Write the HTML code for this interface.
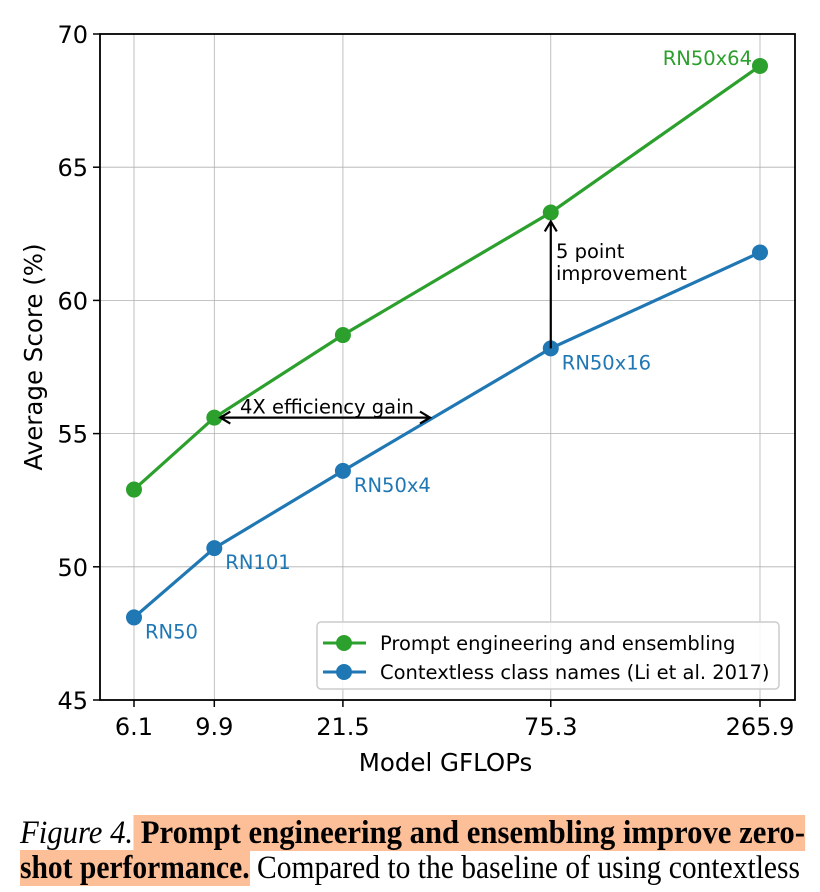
<!DOCTYPE html>
<html><head><meta charset="utf-8"><style>
body{margin:0;background:#fff;width:820px;height:892px;overflow:hidden;position:relative}
svg{position:absolute;left:0;top:0}
.cap{position:absolute;left:20px;font-family:"Liberation Serif",serif;font-size:33px;line-height:34px;white-space:nowrap;color:#000;transform-origin:0 0}
.hl{background:#fdbf98}
</style></head><body>
<svg width="820" height="800" font-family="DejaVu Sans, Liberation Sans, sans-serif">
<g id="grid"></g><g id="axes"></g><g id="series"></g><g id="ann"></g><g id="legend"></g>
</svg>
<div class="cap" id="c1" style="top:816px;"><i>Figure 4.</i><span class="hl"><b> Prompt engineering and ensembling improve zero-</b></span></div>
<div class="cap" id="c2" style="top:851px;"><span class="hl"><b>shot performance.</b></span> Compared to the baseline of using contextless</div>
<script>
const categories=[6.1,9.9,21.5,75.3,265.9];
const tickLabels=["6.1","9.9","21.5","75.3","265.9"];
const promptScores=[52.9,55.6,58.7,63.3,68.8];
const contextlessScores=[48.1,50.7,53.6,58.2,61.8];
const pointLabels=["RN50","RN101","RN50x4","RN50x16","RN50x64"];
const yTicks=[45,50,55,60,65,70];
const NS="http://www.w3.org/2000/svg";
const L=100,R=795,T=34,B=700;
const lx0=Math.log10(6.1),lx1=Math.log10(265.9);
const xS=v=>134+(Math.log10(v)-lx0)/(lx1-lx0)*(760-134);
const yS=v=>T+(70-v)/(70-45)*(B-T);
function mk(p,tag,a){const e=document.createElementNS(NS,tag);for(const k in a)e.setAttribute(k,a[k]);document.getElementById(p).appendChild(e);return e;}
categories.forEach((c,i)=>{
 const g=mk('grid','line',{x1:xS(c),x2:xS(c),y1:T,y2:B,stroke:'#b0b0b0','stroke-width':0.8});
 
 
 mk('axes','line',{x1:xS(c),x2:xS(c),y1:B,y2:B+7,stroke:'#000','stroke-width':1.5});
 const t=mk('axes','text',{x:xS(c),y:B+35,'text-anchor':'middle','font-size':24});
 t.textContent=tickLabels[i];
 
 
});
yTicks.forEach(v=>{
 const g=mk('grid','line',{x1:L,x2:R,y1:yS(v),y2:yS(v),stroke:'#b0b0b0','stroke-width':0.8});
 
 
 mk('axes','line',{x1:L-7,x2:L,y1:yS(v),y2:yS(v),stroke:'#000','stroke-width':1.5});
 const t=mk('axes','text',{x:L-12,y:yS(v)+9,'text-anchor':'end','font-size':24});
 t.textContent=v;
 
 
});
const fr=mk('axes','rect',{x:L,y:T,width:R-L,height:B-T,fill:'none',stroke:'#000','stroke-width':1.8});


const xt=mk('axes','text',{x:(L+R)/2-2,y:771,'text-anchor':'middle','font-size':24.5});
xt.textContent='Model GFLOPs';


const yt=mk('axes','text',{x:0,y:0,'text-anchor':'middle','font-size':24.5,transform:`translate(42,${(T+B)/2-10}) rotate(-90)`});
yt.textContent='Average Score (%)';


function series(vals,col,name){
 const pl=mk('series','polyline',{points:vals.map((v,i)=>xS(categories[i])+','+yS(v)).join(' '),fill:'none',stroke:col,'stroke-width':3.2});
 
 
 vals.forEach((v,i)=>{
  const c=mk('series','circle',{cx:xS(categories[i]),cy:yS(v),r:8,fill:col});
  
  
 });
}
series(contextlessScores,'#1f77b4','contextless');
series(promptScores,'#2ca02c','prompt');
pointLabels.forEach((s,i)=>{
 let x,y,col,anchor='start';
 if(i===4){x=xS(categories[i])-8;y=yS(promptScores[i])-1;col='#2ca02c';anchor='end';}
 else{x=xS(categories[i])+11;y=yS(contextlessScores[i])+21;col='#1f77b4';}
 const t=mk('ann','text',{x:x,y:y,fill:col,'font-size':19.5,'text-anchor':anchor});
 t.textContent=s;
 
 
});
const ay=yS(promptScores[1]);
const ha=mk('ann','path',{d:`M${xS(9.9)+6},${ay} H430 M${xS(9.9)+16},${ay-6} L${xS(9.9)+6},${ay} L${xS(9.9)+16},${ay+6} M420,${ay-6} L430,${ay} L420,${ay+6}`,stroke:'#000','stroke-width':2.2,fill:'none'});


const ht=mk('ann','text',{x:240,y:ay-4,'font-size':19.5});
ht.textContent='4X efficiency gain';


const vx=xS(75.3),y0=yS(contextlessScores[3]),y1=yS(promptScores[3])+9;
const va=mk('ann','path',{d:`M${vx},${y0} V${y1} M${vx-6},${y1+10} L${vx},${y1} L${vx+6},${y1+10}`,stroke:'#000','stroke-width':2.2,fill:'none'});


const vt=mk('ann','text',{x:556,y:258,'font-size':19.5});
vt.innerHTML='<tspan x="556">5 point</tspan><tspan x="556" dy="22">improvement</tspan>';


const lg=mk('legend','rect',{x:317,y:622,width:462,height:67,rx:4,fill:'#fff',stroke:'#ccc','stroke-width':1.5,'fill-opacity':0.85});


[['Prompt engineering and ensembling','#2ca02c',643],['Contextless class names (Li et al. 2017)','#1f77b4',672]].forEach(([s,c,y])=>{
 mk('legend','line',{x1:323,x2:366,y1:y,y2:y,stroke:c,'stroke-width':3});
 mk('legend','circle',{cx:344,cy:y,r:8,fill:c});
 const t=mk('legend','text',{x:380,y:y+7,'font-size':19.5});
 t.textContent=s;
 
 
});
[['c1',785],['c2',780]].forEach(([id,w])=>{
 const el=document.getElementById(id);
 const s=w/el.getBoundingClientRect().width;
 el.style.transform='scaleX('+s+')';
});
</script>
</body></html>
